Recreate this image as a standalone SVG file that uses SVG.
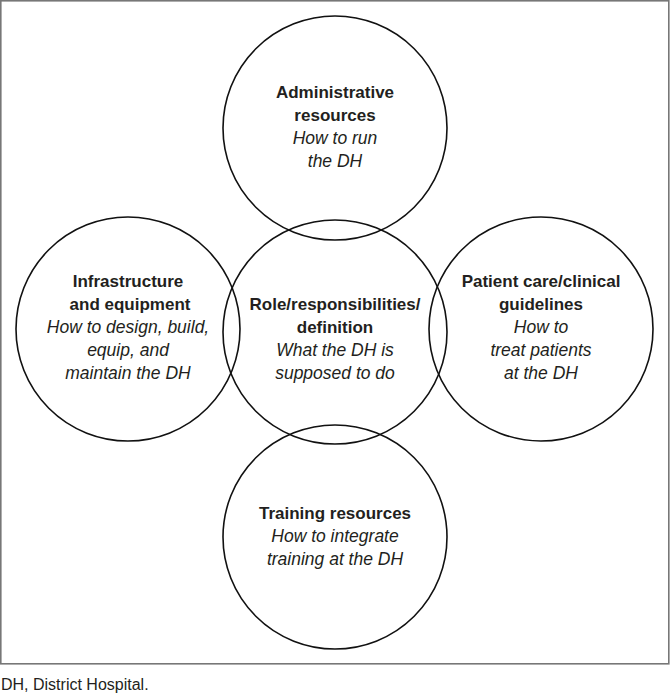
<svg xmlns="http://www.w3.org/2000/svg" width="670" height="694" viewBox="0 0 670 694">
<style>
.c{fill:none;stroke:#111;stroke-width:1.6}
.b{font-family:"Liberation Sans",Arial,sans-serif;font-weight:bold;font-size:17px;fill:#231f20;text-anchor:middle}
.i{font-family:"Liberation Sans",Arial,sans-serif;font-style:italic;font-size:17.5px;fill:#231f20;text-anchor:middle}
.cap{font-family:"Liberation Sans",Arial,sans-serif;font-size:16px;fill:#231f20}
</style>
<rect x="0.8" y="0.8" width="668" height="663" fill="#fff" stroke="#777" stroke-width="1.6"/>
<g id="connectors"></g>
<g id="node-admin">
<circle class="c" cx="335" cy="128" r="112"/>
<text class="b" x="335" y="98">Administrative</text>
<text class="b" x="335" y="121">resources</text>
<text class="i" x="335" y="144">How to run</text>
<text class="i" x="335" y="167">the DH</text>
</g>
<g id="node-infra">
<circle class="c" cx="128" cy="329" r="112"/>
<text class="b" x="128" y="287">Infrastructure</text>
<text class="b" x="130" y="310">and equipment</text>
<text class="i" x="128" y="333">How to design, build,</text>
<text class="i" x="128" y="356">equip, and</text>
<text class="i" x="128" y="379">maintain the DH</text>
</g>
<g id="node-role">
<circle class="c" cx="335" cy="332" r="112"/>
<text class="b" x="335" y="310">Role/responsibilities/</text>
<text class="b" x="335" y="333">definition</text>
<text class="i" x="335" y="356">What the DH is</text>
<text class="i" x="335" y="379">supposed to do</text>
</g>
<g id="node-patient">
<circle class="c" cx="541" cy="329" r="112"/>
<text class="b" x="541" y="287">Patient care/clinical</text>
<text class="b" x="541" y="310">guidelines</text>
<text class="i" x="541" y="333">How to</text>
<text class="i" x="541" y="356">treat patients</text>
<text class="i" x="541" y="379">at the DH</text>
</g>
<g id="node-training">
<circle class="c" cx="335" cy="537" r="112"/>
<text class="b" x="335" y="519">Training resources</text>
<text class="i" x="335" y="542">How to integrate</text>
<text class="i" x="335" y="565">training at the DH</text>
</g>
<text class="cap" x="1" y="690">DH, District Hospital.</text>
</svg>
